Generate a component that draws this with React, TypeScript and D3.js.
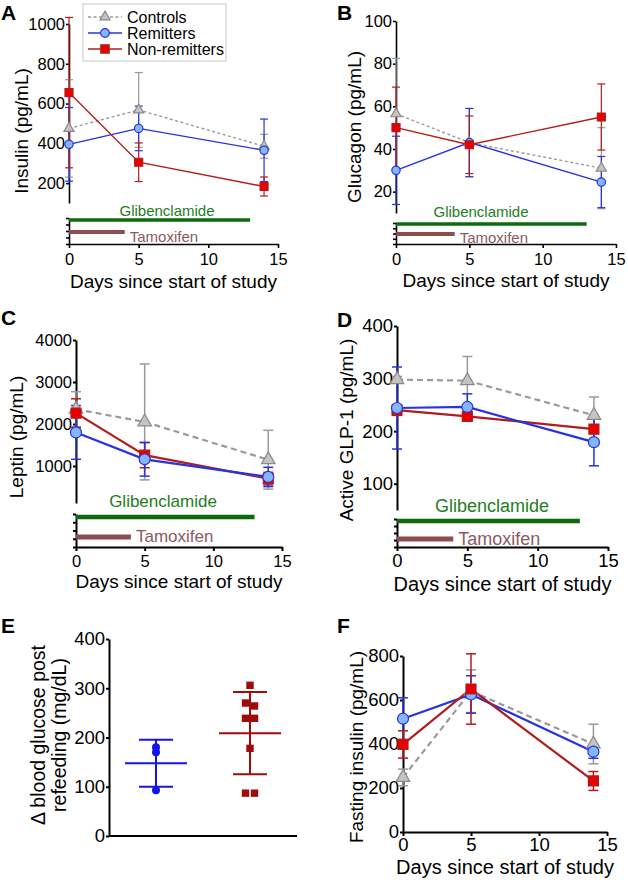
import React, { useEffect, useRef } from 'react';
import * as d3 from 'd3';

// sampling days and x ticks
const days = [0, 5, 14];
const dayTicks = [0, 5, 10, 15];
const groupNames = ['Controls', 'Remitters', 'Non-remitters'];

// treatments shown under the time-course panels
const treatmentNames = ['Glibenclamide', 'Tamoxifen'];
const treatmentEndDay = [13, 4];

// A: insulin (pg/mL), mean and error
const insulinControls = [475, 568, 385];
const insulinControlsErr = [245, 188, 60];
const insulinRemitters = [395, 475, 365];
const insulinRemittersErr = [185, 112, 157];
const insulinNonRemitters = [655, 305, 183];
const insulinNonRemittersErr = [378, 97, 48];

// B: glucagon (pg/mL)
const glucagonControls = [56.5, 43, 31];
const glucagonControlsErr = [26, 16, 19];
const glucagonRemitters = [30, 43, 24.5];
const glucagonRemittersErr = [16, 16, 12];
const glucagonNonRemitters = [50, 42, 55];
const glucagonNonRemittersErr = [19, 13.5, 15.5];

// C: leptin (pg/mL)
const leptinControls = [2350, 2050, 1150];
const leptinControlsErr = [420, 1380, 700];
const leptinRemitters = [1800, 1160, 740];
const leptinRemittersErr = [640, 400, 230];
const leptinNonRemitters = [2260, 1260, 700];
const leptinNonRemittersErr = [340, 300, 150];

// D: active GLP-1 (pg/mL)
const glpControls = [298, 296, 230];
const glpControlsErr = [6, 46, 35];
const glpRemitters = [244, 246, 179];
const glpRemittersErr = [78, 25, 45];
const glpNonRemitters = [240, 228, 204];
const glpNonRemittersErr = [10, 8, 26];

// E: delta blood glucose post refeeding (mg/dL), individual animals
const glucoseRemitters = [180, 170, 93];
const glucoseNonRemitters = [306, 270, 264, 239, 239, 178, 87, 87];
const eTicks = [0, 100, 200, 300, 400];

// F: fasting insulin (pg/mL)
const fastingControls = [248, 640, 400];
const fastingControlsErr = [38, 97, 90];
const fastingRemitters = [515, 625, 365];
const fastingRemittersErr = [95, 85, 30];
const fastingNonRemitters = [398, 650, 232];
const fastingNonRemittersErr = [62, 160, 43];

const font = 'Liberation Sans, Arial, Helvetica, sans-serif';

const groupStyle = [
    { line: '#9a9a9a', fill: '#c4c4c4', stroke: '#8a8a8a', symbol: d3.symbolTriangle, dash: true },
    { line: '#2633e0', fill: '#86b6ff', stroke: '#2633e0', symbol: d3.symbolCircle, dash: false },
    { line: '#b41c1c', fill: '#e80000', stroke: '#b41c1c', symbol: d3.symbolSquare, dash: false },
];

const treatmentColors = ['#0d6b0d', '#8c4c50'];
const treatmentText = ['#237d23', '#8c5a62'];

type Panel = {
    label: string; labelX: number; labelY: number;
    x0: number; x1: number;
    yDomain: [number, number]; yTop: number; yBottom: number; yTicks: number[];
    subTop: number | null; axisY: number;
    title: string; titleX: number; titleY: number; xTitleY: number;
    thick: boolean; tickFont: number; titleFont: number; xTickPad: number;
    treatY?: number[]; glibX?: number; glibY?: number; treatFont?: number; tamDy?: number;
    means: number[][]; errs: number[][]; order: number[];
    legend?: boolean;
};

function drawLinePanel(svg: d3.Selection<SVGSVGElement, unknown, null, undefined>, p: Panel) {
    const g = svg.append('g');
    const x = d3.scaleLinear().domain([0, 15]).range([p.x0, p.x1]);
    const y = d3.scaleLinear().domain(p.yDomain).range([p.yBottom, p.yTop]);
    const axisW = p.thick ? 2 : 1.6;

    const styleAxis = (s: any) => {
        s.select('.domain').attr('stroke-width', axisW);
        s.selectAll('.tick line').attr('stroke-width', axisW);
        s.selectAll('.tick text').attr('font-size', p.tickFont).attr('font-family', font).attr('fill', '#000');
    };

    g.append('g')
        .attr('transform', `translate(${p.x0},0)`)
        .call(d3.axisLeft(y).tickValues(p.yTicks).tickFormat(d3.format('d')).tickSize(3).tickPadding(1).tickSizeOuter(0))
        .call(styleAxis);

    if (p.subTop !== null) {
        const sub = d3.scaleLinear().domain([0, 4]).range([p.axisY, p.subTop]);
        g.append('g')
            .attr('transform', `translate(${p.x0},0)`)
            .call(d3.axisLeft(sub).ticks(4).tickSize(3).tickFormat(() => '').tickSizeOuter(0))
            .call(styleAxis);

        treatmentNames.forEach((name, i) => {
            const ty = p.treatY![i];
            g.append('line')
                .attr('x1', x(0)).attr('x2', x(treatmentEndDay[i]))
                .attr('y1', ty).attr('y2', ty)
                .attr('stroke', treatmentColors[i])
                .attr('stroke-width', p.thick ? 4.5 + i * 0.5 : 3.5 + i * 0.5);
            g.append('text')
                .attr('x', i === 0 ? p.glibX! : x(treatmentEndDay[i]) + 5)
                .attr('y', i === 0 ? p.glibY! : ty + p.tamDy!)
                .attr('text-anchor', i === 0 ? 'middle' : 'start')
                .attr('fill', treatmentText[i])
                .attr('font-size', p.treatFont!)
                .attr('font-family', font)
                .text(name);
        });
    }

    g.append('g')
        .attr('transform', `translate(0,${p.axisY})`)
        .call(d3.axisBottom(x).tickValues(dayTicks).tickSize(4).tickPadding(p.xTickPad).tickSizeOuter(0))
        .call(styleAxis);

    // error bars
    const cap = p.thick ? 5 : 4;
    p.order.forEach(k => {
        const st = groupStyle[k];
        p.means[k].forEach((m, i) => {
            const e = p.errs[k][i];
            const cx = x(days[i]);
            const eg = g.append('g').attr('stroke', st.line).attr('stroke-width', p.thick ? 1.5 : 1.2);
            eg.append('line').attr('x1', cx).attr('x2', cx).attr('y1', y(m - e)).attr('y2', y(m + e));
            eg.append('line').attr('x1', cx - cap).attr('x2', cx + cap).attr('y1', y(m - e)).attr('y2', y(m - e));
            eg.append('line').attr('x1', cx - cap).attr('x2', cx + cap).attr('y1', y(m + e)).attr('y2', y(m + e));
        });
    });

    const line = d3.line<number>().x((_, i) => x(days[i])).y(d => y(d));
    p.order.forEach(k => {
        const st = groupStyle[k];
        g.append('path')
            .attr('d', line(p.means[k]))
            .attr('fill', 'none')
            .attr('stroke', st.line)
            .attr('stroke-width', p.thick ? 2.2 : 1.4)
            .attr('stroke-dasharray', st.dash ? (p.thick ? '6,4' : '3,2.5') : null);
    });

    p.order.forEach(k => {
        const st = groupStyle[k];
        const size = p.thick
            ? (k === 0 ? 80 : k === 1 ? 95 : 100)
            : (k === 0 ? 45 : k === 1 ? 55 : 64);
        g.selectAll(null)
            .data(p.means[k])
            .join('path')
            .attr('transform', (d, i) => `translate(${x(days[i])},${y(d)})`)
            .attr('d', d3.symbol().type(st.symbol).size(size)())
            .attr('fill', st.fill)
            .attr('stroke', st.stroke)
            .attr('stroke-width', 1.2);
    });

    // y title
    g.append('text')
        .attr('transform', `translate(${p.titleX},${p.titleY}) rotate(-90)`)
        .attr('text-anchor', 'middle')
        .attr('font-size', 19)
        .attr('font-family', font)
        .text(p.title);

    // x title
    g.append('text')
        .attr('x', (p.x0 + p.x1) / 2)
        .attr('y', p.xTitleY)
        .attr('text-anchor', 'middle')
        .attr('font-size', p.titleFont)
        .attr('font-family', font)
        .text('Days since start of study');

    g.append('text')
        .attr('x', p.labelX).attr('y', p.labelY)
        .attr('font-size', 21).attr('font-weight', 'bold')
        .attr('font-family', font)
        .text(p.label);

    if (p.legend) {
        const lg = g.append('g');
        lg.append('rect').attr('x', 83).attr('y', 4).attr('width', 143).attr('height', 57)
            .attr('fill', '#fff').attr('stroke', '#c8c8c8').attr('stroke-width', 1);
        groupNames.forEach((name, k) => {
            const st = groupStyle[k];
            const ly = 17 + k * 16;
            lg.append('line').attr('x1', 88).attr('x2', 122).attr('y1', ly).attr('y2', ly)
                .attr('stroke', st.line).attr('stroke-width', 1.4)
                .attr('stroke-dasharray', st.dash ? '3,2.5' : null);
            lg.append('path')
                .attr('transform', `translate(105,${ly})`)
                .attr('d', d3.symbol().type(st.symbol).size(k === 0 ? 45 : k === 1 ? 60 : 70)())
                .attr('fill', st.fill).attr('stroke', st.stroke).attr('stroke-width', 1.2);
            lg.append('text').attr('x', 127).attr('y', ly + 6)
                .attr('font-size', 16).attr('font-family', font).text(name);
        });
    }
}

function drawScatterPanel(svg: d3.Selection<SVGSVGElement, unknown, null, undefined>) {
    const g = svg.append('g');
    const groups = [glucoseRemitters, glucoseNonRemitters];
    const colors = ['#1414e6', '#a00c0c'];
    const x0 = 109;
    const x = d3.scalePoint<number>().domain([0, 1]).range([x0, 297]).padding(0.5);
    const y = d3.scaleLinear().domain([0, 400]).range([836, 639]);

    g.append('g')
        .attr('transform', `translate(${x0},0)`)
        .call(d3.axisLeft(y).tickValues(eTicks).tickFormat(d3.format('d')).tickSize(3).tickPadding(1).tickSizeOuter(0))
        .call((s: any) => {
            s.select('.domain').attr('stroke-width', 2);
            s.selectAll('.tick line').attr('stroke-width', 2);
            s.selectAll('.tick text').attr('font-size', 18.5).attr('font-family', font).attr('fill', '#000');
        });
    g.append('line').attr('x1', x0).attr('x2', 297).attr('y1', 836).attr('y2', 836)
        .attr('stroke', '#000').attr('stroke-width', 2);

    groups.forEach((vals, gi) => {
        const cx = x(gi)!;
        const mean = d3.mean(vals)!;
        const sd = d3.deviation(vals)!;
        const eg = g.append('g').attr('stroke', colors[gi]).attr('stroke-width', 2);
        eg.append('line').attr('x1', cx - 31).attr('x2', cx + 31).attr('y1', y(mean)).attr('y2', y(mean));
        eg.append('line').attr('x1', cx).attr('x2', cx).attr('y1', y(mean - sd)).attr('y2', y(mean + sd));
        [mean - sd, mean + sd].forEach(v => {
            eg.append('line').attr('x1', cx - 17).attr('x2', cx + 17).attr('y1', y(v)).attr('y2', y(v));
        });

        // spread points of near-equal value side by side
        const offs = vals.map((v, i) => {
            const close = vals.map((w, j) => ({ w, j })).filter(o => Math.abs(o.w - v) < 10);
            if (close.length < 2) return 0;
            return close.findIndex(o => o.j === i) === 0 ? -4.5 : 4.5;
        });
        g.selectAll(null)
            .data(vals)
            .join('path')
            .attr('transform', (d, i) => `translate(${cx + offs[i]},${y(d)})`)
            .attr('d', d3.symbol().type(gi === 0 ? d3.symbolCircle : d3.symbolSquare).size(gi === 0 ? 50 : 55)())
            .attr('fill', colors[gi]);
    });

    ['\u0394 blood glucose post', 'refeeding (mg/dL)'].forEach((t, i) => {
        g.append('text')
            .attr('transform', `translate(${45 + i * 21},735) rotate(-90)`)
            .attr('text-anchor', 'middle')
            .attr('font-size', 19.5)
            .attr('font-family', font)
            .text(t);
    });
    g.append('text').attr('x', 1).attr('y', 633)
        .attr('font-size', 21).attr('font-weight', 'bold').attr('font-family', font).text('E');
}

const App: React.FC = () => {
    const ref = useRef<SVGSVGElement | null>(null);

    useEffect(() => {
        if (!ref.current) return;
        const svg = d3.select(ref.current);
        svg.selectAll('*').remove();

        const panels: Panel[] = [
            {
                label: 'A', labelX: 1, labelY: 20, x0: 69, x1: 278,
                yDomain: [100, 1000], yTop: 24, yBottom: 203, yTicks: [200, 400, 600, 800, 1000],
                subTop: 218, axisY: 244, title: 'Insulin (pg/mL)', titleX: 28, titleY: 131, xTitleY: 288,
                thick: false, tickFont: 16.5, titleFont: 19, xTickPad: 5,
                treatY: [220, 232], glibX: 167, glibY: 216, treatFont: 15, tamDy: 9.5,
                means: [insulinControls, insulinRemitters, insulinNonRemitters],
                errs: [insulinControlsErr, insulinRemittersErr, insulinNonRemittersErr],
                order: [0, 1, 2], legend: true,
            },
            {
                label: 'B', labelX: 337, labelY: 20, x0: 396, x1: 616,
                yDomain: [10, 100], yTop: 21, yBottom: 213, yTicks: [20, 40, 60, 80, 100],
                subTop: 223, axisY: 244, title: 'Glucagon (pg/mL)', titleX: 361, titleY: 127, xTitleY: 287,
                thick: false, tickFont: 16.5, titleFont: 19, xTickPad: 5,
                treatY: [224, 234], glibX: 481, glibY: 217, treatFont: 15, tamDy: 9,
                means: [glucagonControls, glucagonRemitters, glucagonNonRemitters],
                errs: [glucagonControlsErr, glucagonRemittersErr, glucagonNonRemittersErr],
                order: [0, 1, 2],
            },
            {
                label: 'C', labelX: 1, labelY: 325, x0: 76, x1: 282,
                yDomain: [120, 4000], yTop: 340, yBottom: 503, yTicks: [1000, 2000, 3000, 4000],
                subTop: 514, axisY: 547, title: 'Leptin (pg/mL)', titleX: 23, titleY: 437, xTitleY: 588,
                thick: true, tickFont: 16.5, titleFont: 19, xTickPad: 4,
                treatY: [517, 537], glibX: 163, glibY: 507, treatFont: 17, tamDy: 5,
                means: [leptinControls, leptinRemitters, leptinNonRemitters],
                errs: [leptinControlsErr, leptinRemittersErr, leptinNonRemittersErr],
                order: [0, 2, 1],
            },
            {
                label: 'D', labelX: 337, labelY: 327, x0: 397, x1: 608,
                yDomain: [50, 400], yTop: 326, yBottom: 510, yTicks: [100, 200, 300, 400],
                subTop: 519, axisY: 547, title: 'Active GLP-1 (pg/mL)', titleX: 353, titleY: 430, xTitleY: 591,
                thick: true, tickFont: 18.5, titleFont: 20, xTickPad: 3,
                treatY: [521, 539], glibX: 492, glibY: 512, treatFont: 18, tamDy: 6,
                means: [glpControls, glpRemitters, glpNonRemitters],
                errs: [glpControlsErr, glpRemittersErr, glpNonRemittersErr],
                order: [0, 2, 1],
            },
            {
                label: 'F', labelX: 337, labelY: 633, x0: 403, x1: 607,
                yDomain: [0, 800], yTop: 656, yBottom: 832, yTicks: [0, 200, 400, 600, 800],
                subTop: null, axisY: 832, title: 'Fasting insulin (pg/mL)', titleX: 363, titleY: 747, xTitleY: 874,
                thick: true, tickFont: 18.5, titleFont: 20, xTickPad: 2,
                means: [fastingControls, fastingRemitters, fastingNonRemitters],
                errs: [fastingControlsErr, fastingRemittersErr, fastingNonRemittersErr],
                order: [0, 1, 2],
            },
        ];

        panels.forEach(p => drawLinePanel(svg, p));
        drawScatterPanel(svg);
    }, []);

    return (
        <svg ref={ref} width={628} height={880}
            style={{ position: 'absolute', left: 0, top: 0, background: '#fff' }} />
    );
};

export default App;
